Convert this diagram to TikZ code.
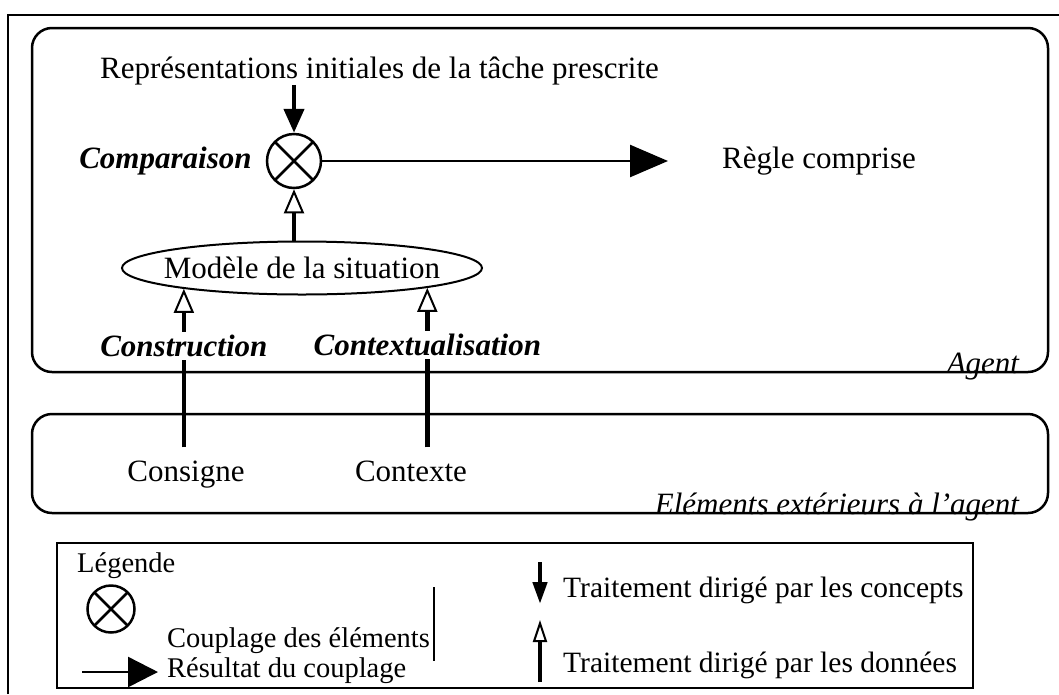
\documentclass[tikz,border=0pt]{standalone}
\usepackage{fontspec}
\setmainfont{Liberation Serif}
\usetikzlibrary{arrows.meta,positioning,shapes.geometric}
\tikzset{
  zone/.style={draw, line width=2.5pt, rounded corners=20pt, inner sep=0pt},
  legbox/.style={draw, line width=2.5pt, inner sep=0pt},
  txt/.style={inner sep=0pt, font=\fontsize{31}{36}\selectfont},
  legtxt/.style={inner sep=0pt, font=\fontsize{28.5}{34}\selectfont, anchor=base west},
  keytxt/.style={inner sep=3pt, fill=white, font=\fontsize{31}{36}\selectfont\bfseries\itshape},
  zonetxt/.style={inner sep=0pt, font=\fontsize{31}{36}\selectfont\itshape, anchor=base east},
  src/.style={txt, anchor=base, outer ysep=13pt},
  situation/.style={draw, ellipse, line width=2pt, minimum width=360pt, minimum height=53pt,
    inner xsep=-20pt, inner ysep=0pt, font=\fontsize{31}{36}\selectfont},
  couple/.style={draw, circle, line width=2.5pt, minimum size=54pt, inner sep=0pt,
    path picture={\draw[line width=2.5pt] (path picture bounding box.north west) -- (path picture bounding box.south east)
      (path picture bounding box.north east) -- (path picture bounding box.south west);}},
  concept/.style={line width=4.5pt, -{Triangle[length=24pt,width=20pt]}},
  data/.style={line width=4.5pt, -{Triangle[open,length=24pt,width=20pt,line width=2pt]}},
  result/.style={line width=2.5pt, -{Triangle[length=38pt,width=32pt]}}
}

\begin{document}
\begin{tikzpicture}[x=1pt,y=-1pt]
  \useasboundingbox (0,0) rectangle (1059,694);
  \draw[line width=2pt] (8,694) -- (8,15) -- (1059,15);

  % zones
  \node[zone, minimum width=1016pt, minimum height=344pt] (agent) at (540,200) {};
  \node[zone, minimum width=1016pt, minimum height=99pt] (exterieur) at (540,463.5) {};
  \node[zonetxt] (agentlab) at ([xshift=-30pt]agent.south east) {Agent};
  \node[zonetxt] (extlab) at ([xshift=-30pt]exterieur.south east) {Eléments extérieurs à l’agent};

  % agent
  \node[txt, anchor=base west] (title) at (100,78) {Représentations initiales de la tâche prescrite};
  \node[couple] (comp) at (294,161) {};
  \node[keytxt, inner sep=0pt, left=14pt of comp] (complab) {Comparaison};
  \node[txt, anchor=west] (regle) at (722,161) {Règle comprise};
  \node[situation] (model) at (302,268) {Modèle de la situation};
  \node[src] (consigne) at (186,481) {Consigne};
  \node[src] (contexte) at (411,481) {Contexte};

  \draw[concept] (comp |- title.south) -- (comp);
  \draw[data] (comp |- model.north) -- (comp);
  \draw[result] (comp) -- ([xshift=-54pt]regle.west);
  \draw[data] (model.190 |- consigne.north) -- node[keytxt, pos=0.64] {Construction} (model.190);
  \draw[data] (model.351 |- contexte.north) -- node[keytxt, pos=0.64] {Contextualisation} (model.351);

  % legende
  \node[legbox, minimum width=916pt, minimum height=145pt] (legende) at (515,615.5) {};
  \node[legtxt] (legtitle) at (77,572) {Légende};
  \node[couple, minimum size=47pt] (legcomp) at (111,609) {};
  \node[legtxt] (legcouple) at (167,647) {Couplage des éléments};
  \node[legtxt] (legresult) at (167,677) {Résultat du couplage};
  \coordinate (res1) at (82,672);
  \coordinate (res2) at (158,672);
  \draw[result, -{Triangle[length=30pt,width=30pt]}] (res1) -- (res2);
  \coordinate (sep1) at (434,587);
  \coordinate (sep2) at (434,661);
  \draw[line width=2pt] (sep1) -- (sep2);
  \node[legtxt, font=\fontsize{29.5}{34}\selectfont] (legconcept) at (563,597) {Traitement dirigé par les concepts};
  \node[legtxt, font=\fontsize{29.5}{34}\selectfont] (legdata) at (563,672) {Traitement dirigé par les données};
  \coordinate (con1) at (540,562);
  \coordinate (con2) at (540,604);
  \draw[concept, -{Triangle[length=22pt,width=14pt]}] (con1) -- (con2);
  \coordinate (dat1) at (540,682);
  \coordinate (dat2) at (540,620);
  \draw[data, -{Triangle[open,length=22pt,width=14pt,line width=2pt]}] (dat1) -- (dat2);
\end{tikzpicture}
\end{document}
